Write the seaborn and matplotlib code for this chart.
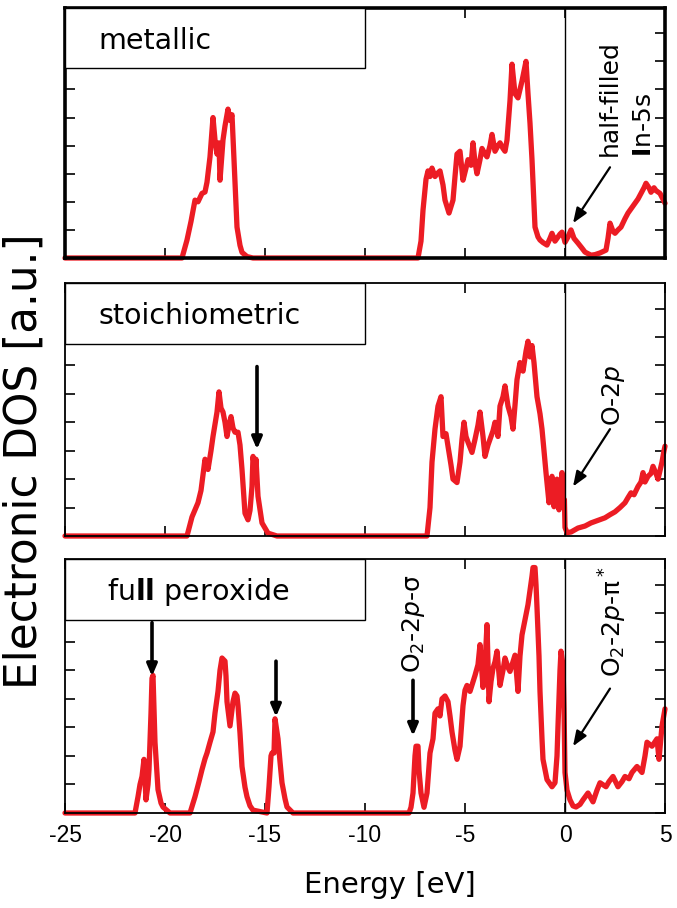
import numpy as np
import pandas as pd
import matplotlib
matplotlib.use("Agg")
import matplotlib.pyplot as plt
from matplotlib.patches import Rectangle
import seaborn as sns

# ---------------- data ----------------
energy_ticks = [-25, -20, -15, -10, -5, 0, 5]
tick_labels = ["-25", "-20", "-15", "-10", "-5", "0", "5"]
panel_names = ["metallic", "stoichiometric", r"fu$\mathbf{ll}$ peroxide"]

energy_metallic = [-25, -19.15, -18.9, -18.7, -18.5, -18.35, -18.15, -18.0, -17.9, -17.75, -17.6, -17.5,
                   -17.4, -17.3, -17.25, -17.1, -17.0, -16.85, -16.75, -16.65, -16.55, -16.4, -16.25,
                   -16.15, -15.9, -15.6, -7.35, -7.2, -7.1, -6.95, -6.85, -6.75, -6.65, -6.5, -6.4,
                   -6.25, -6.1, -6.0, -5.8, -5.6, -5.5, -5.4, -5.25, -5.1, -4.95, -4.85, -4.7, -4.6,
                   -4.5, -4.4, -4.25, -4.15, -4.0, -3.9, -3.75, -3.65, -3.5, -3.35, -3.25, -3.1, -3.0,
                   -2.9, -2.75, -2.65, -2.5, -2.35, -2.25, -2.15, -1.95, -1.85, -1.75, -1.65, -1.5,
                   -1.35, -1.25, -1.1, -0.9, -0.75, -0.65, -0.5, -0.4, -0.25, -0.15, -0.05, 0.0, 0.15,
                   0.3, 0.45, 0.65, 0.85, 1.0, 1.3, 1.5, 1.75, 2.05, 2.15, 2.25, 2.4, 2.5, 2.65, 2.8,
                   3.0, 3.15, 3.3, 3.5, 3.65, 3.8, 3.95, 4.05, 4.2, 4.3, 4.45, 4.55, 4.75, 5.0]
dos_metallic = [0, 0, 0.64, 1.3, 2.06, 2.0, 2.3, 2.35, 2.7, 3.6, 5.0, 4.2,
                3.7, 4.1, 2.77, 4.2, 4.7, 5.3, 4.9, 5.1, 3.5, 1.1, 0.45,
                0.2, 0.05, 0, 0, 0.6, 1.7, 2.8, 3.1, 2.9, 3.2, 2.9, 3.0,
                3.1, 2.6, 2.06, 1.6, 2.06, 2.9, 3.7, 3.8, 2.77, 3.2, 3.5, 3.3, 4.1,
                3.4, 3.0, 3.5, 3.9, 3.7, 3.6, 4.0, 4.4, 3.8, 4.0, 4.1, 3.9, 3.8,
                4.2, 5.6, 6.9, 5.85, 5.7, 6.0, 6.3, 7.0, 5.85, 4.8, 3.5, 1.1,
                0.75, 0.64, 0.55, 0.46, 0.7, 0.88, 0.6, 0.7, 0.85, 0.92, 0.7, 0.56, 0.75,
                1.0, 0.7, 0.53, 0.35, 0.21, 0.1, 0.12, 0.18, 0.28, 0.7, 1.24, 0.95, 0.88, 1.0, 1.1,
                1.4, 1.6, 1.75, 1.95, 2.1, 2.3, 2.5, 2.66, 2.5, 2.34, 2.5, 2.4, 2.3, 1.95]

energy_stoich = [-25, -18.9, -18.65, -18.35, -18.2, -18.0, -17.85, -17.7, -17.6, -17.4, -17.3, -17.2,
                 -17.1, -17.0, -16.9, -16.8, -16.7, -16.6, -16.5, -16.35, -16.25, -16.15, -16.0,
                 -15.85, -15.75, -15.65, -15.6, -15.5, -15.45, -15.35, -15.15, -14.85, -14.4, -6.9,
                 -6.75, -6.65, -6.5, -6.35, -6.2, -6.1, -5.95, -5.85, -5.7, -5.6, -5.4, -5.25, -5.15,
                 -5.05, -4.95, -4.85, -4.65, -4.5, -4.35, -4.25, -4.1, -4.0, -3.85, -3.75, -3.6,
                 -3.5, -3.35, -3.25, -3.1, -3.0, -2.85, -2.7, -2.6, -2.5, -2.4, -2.25, -2.1, -1.95,
                 -1.85, -1.75, -1.65, -1.55, -1.4, -1.25, -1.15, -1.05, -0.95, -0.8, -0.7, -0.65,
                 -0.55, -0.45, -0.4, -0.3, -0.2, -0.15, -0.08, -0.03, 0.0, 0.1, 0.3, 0.65, 1.0, 1.3,
                 1.65, 2.0, 2.25, 2.5, 2.75, 3.0, 3.15, 3.3, 3.45, 3.65, 3.8, 3.9, 4.0, 4.15, 4.3,
                 4.4, 4.55, 4.65, 4.75, 4.85, 4.95, 5.0]
dos_stoich = [0, 0, 0.67, 1.17, 1.6, 2.7, 2.34, 3.0, 3.5, 4.36, 5.07, 4.5,
              4.36, 4.0, 3.5, 3.9, 4.2, 3.8, 3.65, 3.65, 3.2, 2.34, 0.8,
              0.57, 0.9, 1.74, 2.8, 2.3, 2.7, 1.4, 0.46, 0.1, 0, 0,
              1.0, 2.6, 3.76, 4.57, 4.9, 3.5, 3.6, 3.16, 2.5, 2.0, 1.88, 2.6, 3.4,
              4.0, 3.5, 3.3, 2.94, 3.4, 3.9, 4.36, 3.5, 2.8, 3.2, 3.4, 3.7,
              4.0, 3.5, 4.57, 4.9, 5.28, 4.57, 4.2, 3.76, 4.6, 5.5, 6.1, 5.8, 6.5,
              6.85, 6.3, 6.7, 6.1, 4.9, 4.3, 3.76, 3.0, 2.23, 1.17, 1.9, 2.1,
              1.03, 1.6, 2.0, 0.92, 1.6, 2.23, 1.03, 1.28, 0.3, 0.12, 0.14, 0.28, 0.35, 0.46,
              0.55, 0.64, 0.75, 0.85, 1.0, 1.17, 1.35, 1.52, 1.45, 1.74, 1.9, 2.23, 1.9, 2.1, 2.2,
              2.45, 2.2, 2.0, 2.3, 2.6, 3.0, 3.16]

energy_perox = [-25, -21.5, -21.35, -21.25, -21.15, -21.05, -20.95, -20.85, -20.8, -20.7, -20.65, -20.6,
                -20.5, -20.35, -20.2, -20.1, -19.75, -18.75, -18.5, -18.3, -18.15, -18.0, -17.9,
                -17.75, -17.6, -17.5, -17.35, -17.25, -17.15, -17.0, -16.95, -16.9, -16.75, -16.6,
                -16.5, -16.4, -16.35, -16.25, -16.15, -16.0, -15.9, -15.75, -15.6, -14.9, -14.8,
                -14.7, -14.65, -14.55, -14.5, -14.35, -14.25, -14.15, -14.0, -13.9, -13.6, -7.8,
                -7.7, -7.6, -7.5, -7.45, -7.35, -7.3, -7.2, -7.05, -6.9, -6.75, -6.6, -6.5, -6.35,
                -6.25, -6.15, -6.0, -5.85, -5.75, -5.65, -5.5, -5.4, -5.25, -5.1, -5.0, -4.9, -4.75,
                -4.6, -4.5, -4.35, -4.25, -4.1, -4.0, -3.9, -3.8, -3.7, -3.6, -3.5, -3.4, -3.25,
                -3.1, -3.0, -2.85, -2.75, -2.6, -2.5, -2.35, -2.25, -2.15, -2.05, -1.95, -1.85,
                -1.75, -1.65, -1.6, -1.5, -1.45, -1.4, -1.3, -1.25, -1.15, -1.1, -0.9, -0.65, -0.5,
                -0.4, -0.35, -0.25, -0.2, -0.1, -0.05, 0.0, 0.1, 0.25, 0.4, 0.55, 0.75, 0.9, 1.15,
                1.4, 1.6, 1.75, 2.05, 2.2, 2.4, 2.65, 2.85, 3.0, 3.2, 3.35, 3.6, 3.85, 4.0, 4.1,
                4.35, 4.6, 4.7, 4.85, 5.0]
dos_perox = [0, 0, 0.57, 1.0, 1.28, 1.88, 0.46, 1.0, 1.52, 3.5, 4.72, 4.82,
             2.48, 0.82, 0.35, 0.21, 0, 0, 0.57, 1.1, 1.52, 1.9, 2.1,
             2.48, 2.84, 3.5, 4.26, 5.0, 5.43, 5.32, 4.8, 3.9, 3.05, 3.9,
             4.2, 4.1, 3.76, 2.8, 1.63, 0.9, 0.57, 0.25, 0.1, 0, 0.92,
             2.0, 2.1, 2.1, 3.3, 2.6, 1.8, 1.06, 0.5, 0.21, 0, 0,
             0.2, 0.7, 2.0, 2.34, 2.34, 1.5, 0.7, 0.2, 0.7, 2.1, 2.6, 3.5, 3.65,
             3.4, 4.0, 4.1, 3.9, 3.4, 2.84, 2.2, 1.88, 2.34, 3.76, 4.3, 4.47, 4.26,
             4.6, 4.82, 5.2, 5.9, 4.4, 5.2, 6.6, 3.9, 4.6, 5.07, 5.3, 5.67, 4.47,
             5.0, 5.43, 5.1, 4.96, 5.3, 5.53, 4.26, 5.5, 6.24, 6.6, 6.95, 7.3,
             7.8, 8.3, 8.6, 8.6, 8.0, 7.2, 5.5, 4.26, 2.6, 1.88, 1.17, 0.92, 1.06,
             2.0, 3.05, 5.0, 5.67, 5.18, 3.65, 1.42, 0.8, 0.46, 0.25, 0.21, 0.3, 0.46, 0.7,
             0.39, 0.8, 1.06, 0.92, 1.1, 1.28, 0.92, 1.1, 1.28, 1.2, 1.42, 1.63, 1.42, 2.0, 2.48,
             2.34, 2.6, 1.88, 3.05, 3.65]

# ---------------- style ----------------
sns.set_style("ticks")
plt.rcParams["font.family"] = ["DejaVu Sans"]
plt.rcParams["mathtext.fontset"] = "dejavusans"
plt.rcParams["text.color"] = "black"
plt.rcParams["xtick.color"] = "black"
plt.rcParams["ytick.color"] = "black"

RED = "#ec1c24"
fig = plt.figure(figsize=(6.77, 9.08), dpi=100)

L, R = 65 / 677, 665 / 677
rects = [(258, 8), (536, 283), (813, 559)]
datasets = [(energy_metallic, dos_metallic), (energy_stoich, dos_stoich), (energy_perox, dos_perox)]
YMAX = 8.9
axes = []
for i, ((bot, top), (ex, dy)) in enumerate(zip(rects, datasets)):
    ax = fig.add_axes([L, 1 - bot / 908, R - L, (bot - top) / 908])
    df = pd.DataFrame({"Energy": ex, "DOS": dy})
    sns.lineplot(data=df, x="Energy", y="DOS", ax=ax, color=RED, lw=3.8,
                 sort=False, estimator=None, clip_on=False, zorder=2)
    ax.set_xlim(-25, 5)
    ax.set_ylim(0, YMAX)
    ax.axvline(0, color="black", lw=1.0, zorder=3)
    ax.set_xticks(energy_ticks)
    ax.set_yticks(range(0, 9))
    ax.set_yticklabels([])
    ax.set_xlabel("")
    ax.set_ylabel("")
    ax.tick_params(axis="both", direction="in", length=7.5, width=1.2,
                   top=True, right=True, colors="black")
    sw = 2.6 if i == 0 else 1.3
    for s in ax.spines.values():
        s.set_linewidth(sw)
        s.set_color("black")
        s.set_zorder(4)
    ax.add_patch(Rectangle((0, 0.76), 0.5, 0.24, transform=ax.transAxes,
                           facecolor="white", edgecolor="black", lw=1.0, zorder=5))
    ax.text(0.055 if i < 2 else 0.07, 0.87, panel_names[i], transform=ax.transAxes,
            fontsize=20.5, va="center", ha="left", zorder=6, color="black")
    if i < 2:
        ax.set_xticklabels([])
    else:
        ax.set_xticklabels(tick_labels, fontsize=16.5, family="Liberation Sans")
        ax.tick_params(axis="x", pad=8)
    axes.append(ax)

ax1, ax2, ax3 = axes
arr_thin = dict(arrowstyle="-|>,head_length=0.9,head_width=0.35", color="black", lw=1.6,
                shrinkA=0, shrinkB=0)
arr_thick = dict(arrowstyle="-|>,head_length=0.7,head_width=0.3", color="black", lw=2.6,
                 shrinkA=0, shrinkB=0)

# panel 1
ax1.annotate("", xy=(0.4, 1.24), xytext=(2.25, 3.23), arrowprops=arr_thin, zorder=6)
ax1.text(2.25, 5.7, "half-filled", rotation=90, fontsize=18, ha="center", va="center")
ax1.text(3.95, 4.72, r"$\mathbf{I}$n-5s", rotation=90, fontsize=18, ha="center", va="center")

# panel 2
ax2.annotate("", xy=(0.4, 1.74), xytext=(2.25, 3.76), arrowprops=arr_thin, zorder=6)
ax2.text(2.4, 4.96, r"O-2$p$", rotation=90, fontsize=18, ha="center", va="center")
ax2.annotate("", xy=(-15.4, 3.05), xytext=(-15.4, 5.96), arrowprops=arr_thick, zorder=6)

# panel 3
ax3.annotate("", xy=(-20.65, 4.79), xytext=(-20.65, 6.67), arrowprops=arr_thick, zorder=6)
ax3.annotate("", xy=(-14.45, 3.37), xytext=(-14.45, 5.32), arrowprops=arr_thick, zorder=6)
ax3.annotate("", xy=(-7.6, 2.7), xytext=(-7.6, 4.65), arrowprops=arr_thick, zorder=6)
ax3.text(-7.6, 6.63, r"O$_2$-2$p$-σ", rotation=90, fontsize=18, ha="center", va="center")
ax3.annotate("", xy=(0.4, 2.34), xytext=(2.25, 4.36), arrowprops=arr_thin, zorder=6)
ax3.text(2.4, 6.7, r"O$_2$-2$p$-π$^*$", rotation=90, fontsize=18, ha="center", va="center")

fig.text(0.036, 0.492, "Electronic DOS [a.u.]", rotation=90, fontsize=31.5,
         ha="center", va="center")
fig.text(390 / 677, 1 - 885 / 908, "Energy [eV]", fontsize=21, ha="center", va="center")

fig.savefig("out.png", dpi=100)
